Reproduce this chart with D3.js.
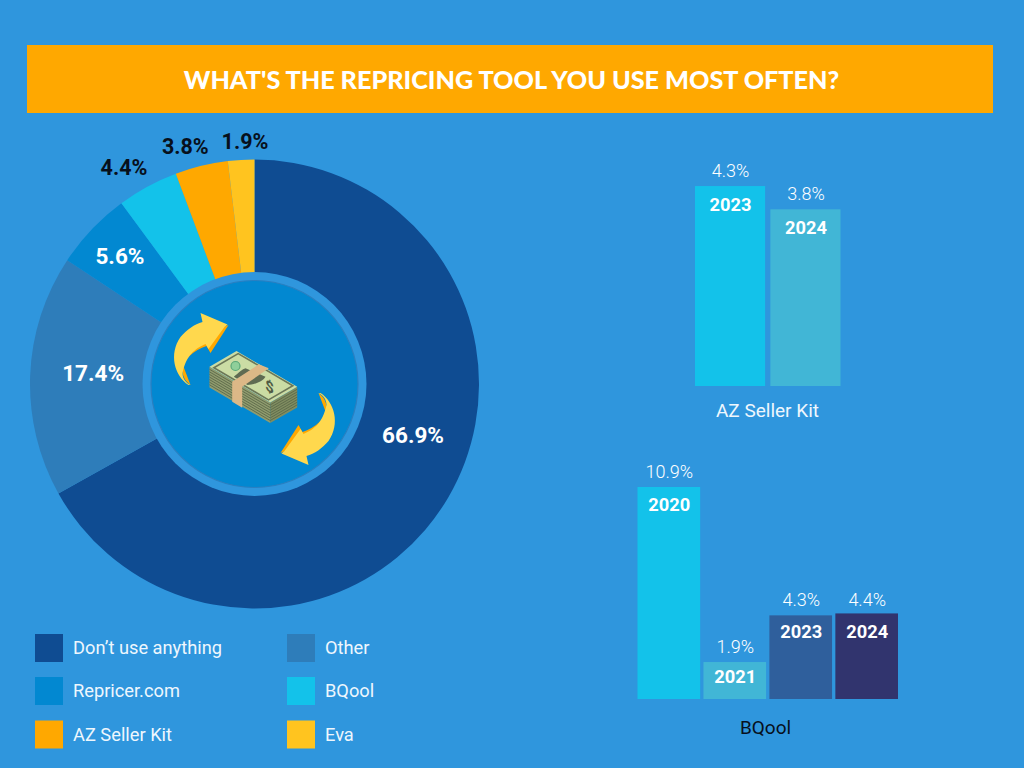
<!DOCTYPE html>
<html><head><meta charset="utf-8">
<script src="https://cdn.jsdelivr.net/npm/d3@7"></script>
<style>html,body{margin:0;padding:0;background:#2f96dd}svg{display:block}text{font-family:Roboto,sans-serif}</style>
</head><body><div id="c"></div>
<script>
const titleText = "WHAT'S THE REPRICING TOOL YOU USE MOST OFTEN?";
const pieCategories = ["Don’t use anything","Other","Repricer.com","BQool","AZ Seller Kit","Eva"];
const pieValues = [66.9,17.4,5.6,4.4,3.8,1.9];
const pieColors = ["#0f4c92","#2e7dba","#0288d1","#13c2ea","#ffa800","#ffc41f"];
const azLabel = "AZ Seller Kit";
const azYears = ["2023","2024"];
const azValues = [4.3,3.8];
const azColors = ["#13c2ea","#41b6d6"];
const bqLabel = "BQool";
const bqYears = ["2020","2021","2023","2024"];
const bqValues = [10.9,1.9,4.3,4.4];
const bqColors = ["#13c2ea","#41b6d6","#2f5f9c","#31346e"];

const svg = d3.select("#c").append("svg").attr("width",1024).attr("height",768);
svg.append("rect").attr("width",1024).attr("height",768).attr("fill","#2f96dd");
svg.append("rect").attr("x",27).attr("y",45).attr("width",966).attr("height",68).attr("fill","#ffa800");
svg.append("text").attr("x",511.5).attr("y",89).attr("text-anchor","middle").attr("fill","#fff")
  .style("font-family","Lato").style("font-weight",900).style("font-size","25.2px").text(titleText);

// donut
const cx=254.5, cy=384, R=224.5;
const g=svg.append("g").attr("transform",`translate(${cx},${cy})`);
const pie=d3.pie().sort(null).value(d=>d)(pieValues);
const arc=d3.arc().innerRadius(0).outerRadius(R);
g.selectAll("path.s").data(pie).join("path").attr("class","s").attr("d",arc).attr("fill",(d,i)=>pieColors[i]);
g.append("circle").attr("r",112).attr("fill","#2f96dd");
g.append("circle").attr("r",103.5).attr("fill","#0288d1").attr("stroke","#2a7fc0").attr("stroke-width",1.2);

// donut labels: placed by slice centroid at a per-slice radius, plus a nudge
const labelRadius=[167,161,185,252,248,243];
const labelNudge=[[15,-33],[0,-4],[0,0],[-10,5.5],[-10,3],[5.5,0]];
g.selectAll("text.pl").data(pie).join("text").attr("class","pl")
  .each(function(d,i){
    const c=d3.arc().innerRadius(labelRadius[i]).outerRadius(labelRadius[i]).centroid(d);
    d3.select(this).attr("x",c[0]+labelNudge[i][0]-0.5).attr("y",c[1]+labelNudge[i][1]+7.5);
  })
  .attr("text-anchor","middle").attr("fill",(d,i)=>i<3?"#fff":"#07101c")
  .style("font-weight",700).style("font-size",(d,i)=>i<3?"22.5px":"21.5px").text(d=>d.value.toFixed(1)+"%");

// centre illustration
const ill=svg.append("g").attr("transform",`translate(${cx},${cy})`);
[0,1].forEach(k=>{
  const t=ill.append("g").attr("transform",k?"translate(0,10) rotate(180)":"");
  t.append("path").attr("d","M-64,1 C-74,-6 -75,-20 -66,-27 C-60,-33 -54,-36 -48,-38 L-44,-31 L-26,-59 L-50,-50 L-72,-20 Z").attr("fill","#ffa800");
  t.append("path").attr("d","M-66,1 C-80,-8 -86,-30 -74,-47 C-68,-54 -60,-60 -52,-62 L-54,-71 L-27,-59.5 L-30,-57 L-46,-35 L-49,-40 C-60,-35 -68,-29 -72,-11 C-72,-5 -68,-1 -64,1 Z").attr("fill","#ffd84d");
});
const L=[-45,-17.3],B=[-18,-33],Rg=[42.7,2.7],F=[15.7,18.4],H=20.7;
const m=ill.append("g");
const pth=a=>"M"+a.map(p=>p.join(",")).join("L")+"Z";
const sideL=[L,F,[F[0],F[1]+H],[L[0],L[1]+H]], sideR=[F,Rg,[Rg[0],Rg[1]+H],[F[0],F[1]+H]];
m.append("path").attr("d",pth(sideL)).attr("fill","#8f9c6e");
m.append("path").attr("d",pth(sideR)).attr("fill","#7f8d60");
d3.range(1,8).forEach(i=>{
  const dy=i*H/8;
  m.append("path").attr("d",`M${L[0]},${L[1]+dy}L${F[0]},${F[1]+dy}L${Rg[0]},${Rg[1]+dy}`).attr("fill","none").attr("stroke","#5c6849").attr("stroke-width",0.9);
});
m.append("path").attr("d",pth([L,B,Rg,F])).attr("fill","#cbdca4");
const inset=(p,q,s)=>[p[0]+(q[0]-p[0])*s,p[1]+(q[1]-p[1])*s];
const ctr=[(L[0]+Rg[0])/2,(L[1]+Rg[1])/2];
m.append("path").attr("d",pth([L,B,Rg,F].map(p=>inset(p,ctr,0.1)))).attr("fill","none").attr("stroke","#6b7758").attr("stroke-width",1.6);
m.append("circle").attr("cx",-19).attr("cy",-18).attr("r",4.5).attr("fill","#8fcf9a").attr("stroke","#5aa878").attr("stroke-width",1.2);
m.append("path").attr("d","M-20.7,-7.3 C-16,-11 -12,-15 -9,-15.7 L11,-7.3 C8,-2 -2,1 -7,1 Z").attr("fill","#5f6b52");
m.append("text").attr("transform","translate(15,8) skewY(30)").attr("text-anchor","middle").attr("fill","#505c45").style("font-size","15px").style("font-weight",700).text("$");
m.append("path").attr("d",pth([[4.3,-19.7],[14.3,-15.7],[-12.3,2.7],[-12.3,23.7],[-22.3,17.7],[-22.3,-2.3]])).attr("fill","#dcb887");

// legend
const legX=[35,287], legY=[634,677,720.5];
svg.selectAll("g.l").data(pieCategories).join("g").attr("class","l")
  .attr("transform",(d,i)=>`translate(${legX[i%2]},${legY[Math.floor(i/2)]})`)
  .each(function(d,i){
    const s=d3.select(this);
    s.append("rect").attr("width",28).attr("height",28).attr("fill",pieColors[i]);
    s.append("text").attr("x",38).attr("y",20).attr("fill","#eef7fd").style("font-size","18.25px").text(d);
  });

function bars(years,values,colors,x0,x1,yBase,k,pad,label,labelX,labelY,labelColor,yrOff,lift,yrLift){
  const x=d3.scaleBand().domain(years).range([x0,x1]).paddingInner(pad);
  const y=d3.scaleLinear().domain([0,1]).range([yBase,yBase-k]);
  const gg=svg.append("g");
  years.forEach((yr,i)=>{
    const top=y(values[i]);
    gg.append("rect").attr("x",x(yr)).attr("y",top).attr("width",x.bandwidth()).attr("height",yBase-top).attr("fill",colors[i]);
    gg.append("text").attr("x",x(yr)+x.bandwidth()/2+0.5).attr("y",top-9.2+lift[i]).attr("text-anchor","middle").attr("fill","#fff").style("font-weight",300).style("font-size","18px").text(values[i].toFixed(1)+"%");
    gg.append("text").attr("x",x(yr)+x.bandwidth()/2+0.5).attr("y",top+yrOff+yrLift[i]).attr("text-anchor","middle").attr("fill","#fff").style("font-weight",700).style("font-size","18.3px").text(yr);
  });
  gg.append("text").attr("x",labelX).attr("y",labelY).attr("text-anchor","middle").attr("fill",labelColor).style("font-size","19px").text(label);
}
bars(azYears,azValues,azColors,695,840.5,386,46.5,0.07,azLabel,767.5,416.5,"#eef7fd",25,[0,0],[0,0]);
bars(bqYears,bqValues,bqColors,637.5,898,699,19.45,0.05,bqLabel,765.5,734,"#07101c",23.5,[0,0,0,2],[0.5,-2.5,-1,1]);
</script></body></html>
